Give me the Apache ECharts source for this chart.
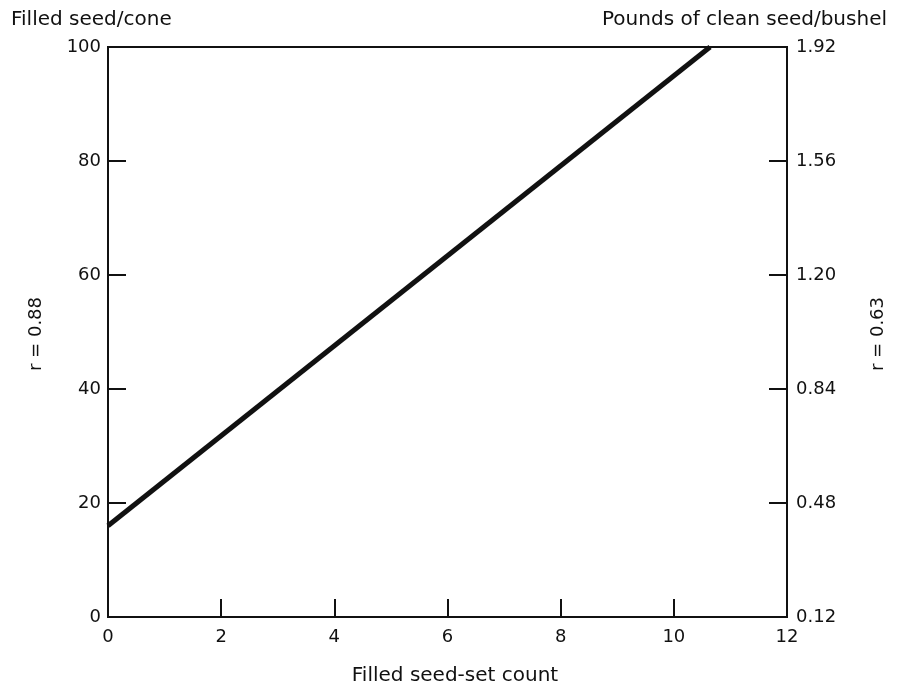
<!DOCTYPE html>
<html>
<head>
<meta charset="utf-8">
<script src="https://cdn.jsdelivr.net/npm/echarts@6/dist/echarts.min.js"></script>
<style>
  html, body { margin: 0; padding: 0; background: #fff; }
  #main { width: 899px; height: 688px; }
</style>
</head>
<body>
<div id="main"></div>
<script>
// regression line: filled seed-set count vs filled seed per cone
const lineX = [0, 10.64];
const lineY = [16, 100];
const leftTicks = [0, 20, 40, 60, 80, 100];
const rightTickLabels = ['0.12', '0.48', '0.84', '1.20', '1.56', '1.92'];
const xTicks = [0, 2, 4, 6, 8, 10, 12];

const font = '"DejaVu Sans", "Liberation Sans", sans-serif';
const ink = '#111';

const myChart = echarts.init(document.getElementById('main'));
myChart.setOption({
  animation: false,
  grid: {
    left: 108, right: 112, top: 47, bottom: 71,
    show: true, borderColor: ink, borderWidth: 2, backgroundColor: 'transparent'
  },
  xAxis: {
    type: 'value', min: xTicks[0], max: xTicks[xTicks.length - 1], interval: 2,
    axisLine: { lineStyle: { color: ink, width: 2 } },
    axisTick: { inside: true, length: 18, lineStyle: { color: ink, width: 2 } },
    axisLabel: { fontFamily: font, fontSize: 18, color: ink, margin: 11 },
    splitLine: { show: false }
  },
  yAxis: [
    {
      type: 'value', min: leftTicks[0], max: leftTicks[leftTicks.length - 1], interval: 20,
      position: 'left',
      axisLine: { show: true, lineStyle: { color: ink, width: 2 } },
      axisTick: { show: true, inside: true, length: 18, lineStyle: { color: ink, width: 2 } },
      axisLabel: { fontFamily: font, fontSize: 18, color: ink, margin: 7 },
      splitLine: { show: false }
    },
    {
      type: 'value', min: 0, max: 100, interval: 20,
      position: 'right',
      axisLine: { show: true, lineStyle: { color: ink, width: 2 } },
      axisTick: { show: true, inside: true, length: 18, lineStyle: { color: ink, width: 2 } },
      axisLabel: {
        fontFamily: font, fontSize: 18, color: ink, margin: 9,
        formatter: v => rightTickLabels[Math.round(v / 20)]
      },
      splitLine: { show: false }
    }
  ],
  graphic: [
    { type: 'text', x: 11, y: 20,
      style: { text: 'Filled seed/cone', font: '20px ' + font, fill: ink, verticalAlign: 'middle' } },
    { type: 'text', x: 887, y: 20,
      style: { text: 'Pounds of clean seed/bushel', font: '20px ' + font, fill: ink, align: 'right', verticalAlign: 'middle' } },
    { type: 'text', x: 455, y: 676,
      style: { text: 'Filled seed-set count', font: '20px ' + font, fill: ink, align: 'center', verticalAlign: 'middle' } },
    { type: 'text', x: 36, y: 334, rotation: Math.PI / 2,
      style: { text: 'r = 0.88', font: '18px ' + font, fill: ink, align: 'center', verticalAlign: 'middle' } },
    { type: 'text', x: 878, y: 334, rotation: Math.PI / 2,
      style: { text: 'r = 0.63', font: '18px ' + font, fill: ink, align: 'center', verticalAlign: 'middle' } }
  ],
  series: [{
    type: 'line',
    data: lineX.map((x, i) => [x, lineY[i]]),
    showSymbol: false,
    clip: true,
    lineStyle: { color: ink, width: 5 }
  }]
});
</script>
</body>
</html>
